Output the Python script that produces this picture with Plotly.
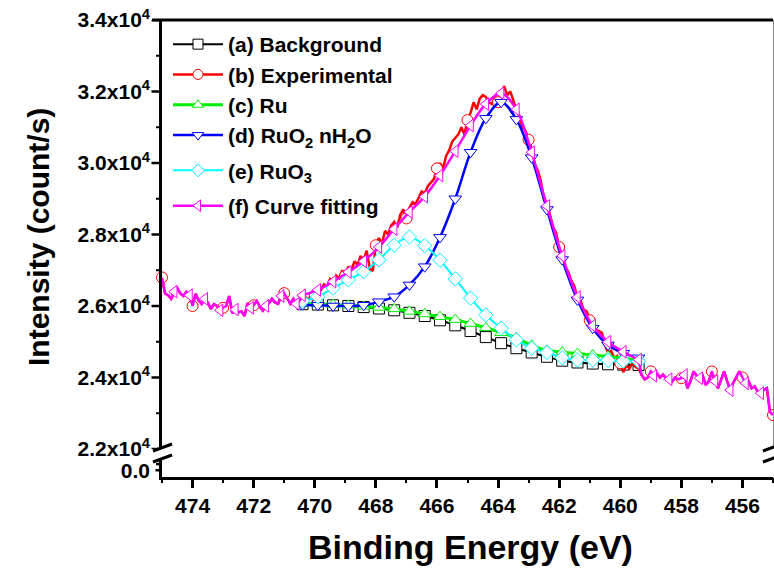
import plotly.graph_objects as go

FONT = "Arial, 'Liberation Sans', sans-serif"

# ---------------- data ----------------
# Experimental spectrum, 0.1 eV steps from 475.0 eV down to 455.0 eV
exp_high = [26800, 26350, 26300, 26200, 26400, 26500, 26350, 26280, 26400, 26300,
            26000, 26340, 26150, 26060, 26200, 26100, 25920, 26050, 26000, 25880,
            25950, 26000, 26280, 25800, 25900, 25820, 25850, 25720, 26080, 25950,
            26020, 26140, 25980, 25870, 26000, 26080, 26200, 26100, 26060, 26280,
            26360, 26200, 26060, 26200, 26060, 26150]
exp_mid = [26100, 26250, 26150, 26400, 26300,
           26500, 26450, 26600, 26550, 26750, 26650, 26850, 26780, 27000, 26850,
           27100, 27000, 27250, 27150, 27400, 27300, 27550, 27050, 26980, 27700,
           27900, 27750, 28100, 28000, 28250, 28350, 28200, 28550, 28700, 28450,
           28750, 28900, 28850, 29050, 29200, 29150, 29350, 29450, 29550, 29850,
           30000, 29850, 30200, 30350, 30600, 30700, 30800, 31000, 30800, 31200,
           31400, 31700, 31500, 31800, 31900, 31850, 31700, 31650, 31850, 31700,
           31900, 32150, 31900, 32000, 31750, 31480, 31300, 31000, 30900, 30650,
           30400, 29950, 29800, 29500, 29000, 28900, 28550, 28200, 28050, 27650,
           27450, 27100, 26950, 26700, 26550, 26200, 26150, 25900, 25850, 25600,
           25550, 25350, 25300, 25250, 24900, 24700, 24750, 24550, 24600, 24400,
           24150, 24350, 24250, 24400, 24300]
exp_low = [24250, 24070, 23950, 24000, 24170, 24050, 24120, 24000, 24080, 23980,
           23950, 23880, 24000, 23950, 23980, 24070, 23700, 23900, 24170, 24050,
           23980, 24050, 23790, 23900, 24170, 23900, 23700, 23950, 24170, 23900,
           23650, 23850, 24020, 24170, 24000, 23840, 23900, 23700, 23750, 23600,
           23560, 23650, 23700, 23040, 22950]
exp_counts = exp_high + exp_mid + exp_low
energy = [round(475.0 - 0.1 * i, 1) for i in range(len(exp_counts))]

# Fitted components, 0.5 eV grid from 470.4 eV to 459.4 eV
fit_energy = [470.4, 469.9, 469.4, 468.9, 468.4, 467.9, 467.4, 466.9, 466.4, 465.9,
              465.4, 464.9, 464.4, 463.9, 463.4, 462.9, 462.4, 461.9, 461.4, 460.9,
              460.4, 459.9, 459.4]
background = [26050, 26040, 26020, 26000, 25970, 25930, 25880, 25810, 25720, 25600,
              25460, 25300, 25130, 24960, 24820, 24700, 24580, 24470, 24420, 24390,
              24370, 24360, 24350]
ru = [26070, 26060, 26040, 26020, 25990, 25960, 25920, 25850, 25780, 25700,
      25620, 25510, 25390, 25250, 25110, 24900, 24760, 24710, 24670, 24630,
      24590, 24540, 24480]
ruo2 = [26030, 26020, 26000, 26000, 26020, 26120, 26260, 26590, 27100, 27920,
        29000, 30300, 31250, 31700, 31220, 30150, 28700, 27300, 26170, 25380,
        24910, 24680, 24550]
ruo3 = [26140, 26260, 26500, 26730, 26960, 27290, 27700, 27930, 27690, 27280,
        26760, 26220, 25750, 25380, 25050, 24820, 24700, 24550, 24490, 24490,
        24480, 24460, 24450]
curve_fit = [26300, 26450, 26680, 26950, 27250, 27650, 28150, 28630, 29060, 29650,
             30330, 31050, 31650, 31950, 31500, 30300, 28800, 27400, 26250, 25450,
             25000, 24720, 24500]

y_tickvals = [22000, 24000, 26000, 28000, 30000, 32000, 34000]
y_minorvals = [23000, 25000, 27000, 29000, 31000, 33000]
y_ticktext = ["2.2x10<sup>4</sup>", "2.4x10<sup>4</sup>", "2.6x10<sup>4</sup>",
              "2.8x10<sup>4</sup>", "3.0x10<sup>4</sup>", "3.2x10<sup>4</sup>",
              "3.4x10<sup>4</sup>"]

legend_names = ["(a) Background", "(b) Experimental", "(c) Ru",
                "(d) RuO<sub>2</sub> nH<sub>2</sub>O", "(e) RuO<sub>3</sub>",
                "(f) Curve fitting"]
legend_groups = ["g1", "g1", "g1", "g1", "g2", "g3"]
colors = ["#000000", "#FF0000", "#00EE00", "#0000FF", "#00FFFF", "#FF00FF"]
symbols = ["square", "circle", "triangle-up", "triangle-down", "diamond", "triangle-left"]
widths = [2, 2.5, 3, 2.5, 2, 2.5]
MSIZE = 11

# ---------------- geometry ----------------
# plotting area begins 11 px left of the 475 eV axis so that the left axis
# line and its tick marks are drawn inside the plotting area
AX, PL, PR, PT, PB = 162, 151, 773, 20, 477
PW, PH = PR - PL, PB - PT
EV_PER_PX = 20.0 / (PR - AX)
X_LEFT = 475 + (AX - PL) * EV_PER_PX
AXIS_X = 475 + 1.5 * EV_PER_PX          # centre of the 3 px axis line
MAJOR_X0 = 475 + 10.5 * EV_PER_PX        # 10 px major tick
MINOR_X0 = 475 + 6 * EV_PER_PX           # 5 px minor tick


def px(x):
    return (x - PL) / PW


def py(y):
    return (PB - y) / PH


fig = go.Figure()


def add_line(x, y, c, w, shape="linear", yaxis="y"):
    fig.add_trace(go.Scatter(x=x, y=y, mode="lines", showlegend=False, hoverinfo="skip",
                             yaxis=yaxis, line=dict(color=c, width=w, shape=shape)))


def add_marks(x, y, c, sym):
    fig.add_trace(go.Scatter(x=x, y=y, mode="markers", showlegend=False, hoverinfo="skip",
                             marker=dict(symbol=sym, size=MSIZE, color="white",
                                         line=dict(color=c, width=1))))


# (a) background
add_line(fit_energy, background, colors[0], widths[0], "spline")
add_marks(fit_energy, background, colors[0], symbols[0])
# (b) experimental
add_line(energy, exp_counts, colors[1], widths[1])
add_marks(energy[::10], exp_counts[::10], colors[1], symbols[1])
# (c) Ru
add_line(fit_energy, ru, colors[2], widths[2], "spline")
add_marks(fit_energy, ru, colors[2], symbols[2])
# (d) RuO2 nH2O
add_line(fit_energy, ruo2, colors[3], widths[3], "spline")
add_marks(fit_energy, ruo2, colors[3], symbols[3])
# (e) RuO3
add_line(fit_energy, ruo3, colors[4], widths[4], "spline")
add_marks(fit_energy, ruo3, colors[4], symbols[4])
# (f) curve fitting: experimental outside fit window, fitted envelope inside
left_idx = [i for i, e in enumerate(energy) if e >= 470.5]
right_idx = [i for i, e in enumerate(energy) if e < 459.4]
lx = [energy[i] for i in left_idx] + [fit_energy[0]]
ly = [exp_counts[i] for i in left_idx] + [curve_fit[0]]
rx = [fit_energy[-1]] + [energy[i] for i in right_idx]
ry = [curve_fit[-1]] + [exp_counts[i] for i in right_idx]
add_line(lx, ly, colors[5], widths[5])
add_line(rx, ry, colors[5], widths[5])
add_line(fit_energy, curve_fit, colors[5], widths[5], "spline")
mx = [energy[i] for i in left_idx if i % 5 == 4] + fit_energy + [energy[i] for i in right_idx if i % 5 == 1]
my = [exp_counts[i] for i in left_idx if i % 5 == 4] + curve_fit + [exp_counts[i] for i in right_idx if i % 5 == 1]
add_marks(mx, my, colors[5], symbols[5])

# ---- left (broken) intensity axis: line and tick marks drawn through the axes ----
add_line([AXIS_X, AXIS_X], [y_tickvals[0], y_tickvals[-1]], "black", 3)
tx, ty = [], []
for v in y_tickvals:
    tx += [MAJOR_X0, AXIS_X, None]
    ty += [v, v, None]
add_line(tx, ty, "black", 2.5)
mxs, mys = [], []
for v in y_minorvals:
    mxs += [MINOR_X0, AXIS_X, None]
    mys += [v, v, None]
add_line(mxs, mys, "black", 2)
# lower segment (0.0)
add_line([AXIS_X, AXIS_X], [-0.6, 1.0], "black", 3, yaxis="y2")
add_line([MINOR_X0 + 0.5 * EV_PER_PX, AXIS_X, None, MINOR_X0, AXIS_X],
         [0, 0, None, 0.55, 0.55], "black", 2.5, yaxis="y2")

# legend entries
for n, g, c, s, w in zip(legend_names, legend_groups, colors, symbols, widths):
    fig.add_trace(go.Scatter(x=[None], y=[None], mode="lines+markers", name=n, legendgroup=g,
                             line=dict(color=c, width=w),
                             marker=dict(symbol=s, size=10, color="white",
                                         line=dict(color=c, width=1))))

# ---------------- layout ----------------
tickfont = dict(family=FONT, size=21, color="black", weight="bold")
D = py(449)

fig.update_layout(
    width=774, height=571,
    margin=dict(l=PL, r=774 - PR, t=PT, b=571 - PB),
    plot_bgcolor="white", paper_bgcolor="white",
    font=dict(family=FONT, color="black"),
    xaxis=dict(range=[X_LEFT, 455], autorange=False, anchor="y2", domain=[0, 1],
               showline=False,
               ticks="outside", ticklen=10, tickwidth=2.5, tickcolor="black",
               tick0=0, dtick=2, tickfont=tickfont,
               minor=dict(dtick=1, ticks="outside", ticklen=5, tickwidth=2,
                          tickcolor="black", showgrid=False),
               showgrid=False, zeroline=False),
    yaxis=dict(domain=[D, 1], range=[22000, 34000], autorange=False, anchor="x",
               showline=False, tickmode="array", tickvals=y_tickvals, ticktext=y_ticktext,
               ticks="", tickfont=tickfont, showgrid=False, zeroline=False),
    yaxis2=dict(domain=[0, py(459)], range=[-0.6, 1.0], autorange=False, anchor="x",
                showline=False, tickmode="array", tickvals=[0], ticktext=["0.0"],
                ticks="", tickfont=tickfont, showgrid=False, zeroline=False),
    legend=dict(x=px(168), y=py(24), xanchor="left", yanchor="top",
                bgcolor="rgba(0,0,0,0)", borderwidth=0, itemwidth=50,
                font=dict(family=FONT, size=21, color="black", weight="bold"),
                tracegroupgap=5),
    showlegend=True,
)

BLACK3 = dict(color="black", width=3)
shapes = [
    # top frame line
    dict(type="line", xref="paper", yref="paper", x0=px(152), x1=1, y0=py(20), y1=py(20), line=BLACK3),
    # bottom axis line
    dict(type="line", xref="paper", yref="paper", x0=px(159), x1=1, y0=py(478.5), y1=py(478.5), line=BLACK3),
    # right frame line (upper part)
    dict(type="line", xref="paper", yref="paper", x0=px(773.5), x1=px(773.5), y0=py(447), y1=py(20),
         line=dict(color="#888888", width=1)),
]
# axis-break marks
for (xa, xb) in [(153, 172), (763, 782)]:
    for (ya, yb) in [(451, 444), (462, 455)]:
        shapes.append(dict(type="line", xref="paper", yref="paper",
                           x0=px(xa), x1=px(xb), y0=py(ya), y1=py(yb),
                           line=BLACK3, layer="above"))
fig.update_layout(shapes=shapes)

fig.add_annotation(text="Binding Energy (eV)", xref="paper", yref="paper",
                   x=px(470), y=py(547), xanchor="center", yanchor="middle",
                   showarrow=False, font=dict(family=FONT, size=34, color="black", weight="bold"))
fig.add_annotation(text="Intensity (count/s)", xref="paper", yref="paper",
                   x=px(38), y=py(237), xanchor="center", yanchor="middle", textangle=-90,
                   showarrow=False, font=dict(family=FONT, size=30, color="black", weight="bold"))

fig.write_html("out.html")
